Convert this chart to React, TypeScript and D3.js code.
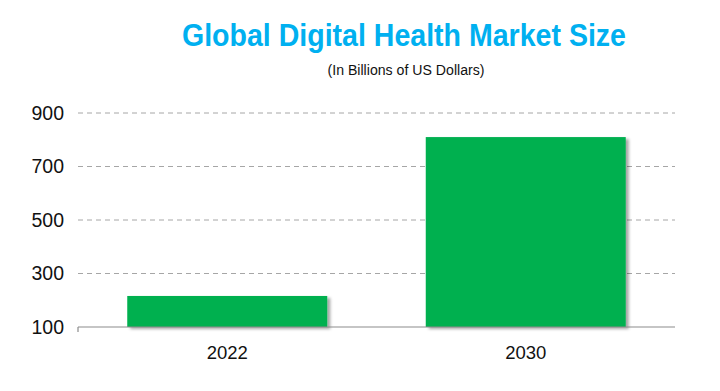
import React, { useRef, useEffect } from 'react';
import * as d3 from 'd3';

const categories = ['2022', '2030'];
const marketSize = [216, 810];
const yTicks = [100, 300, 500, 700, 900];

const App: React.FC = () => {
    const svgRef = useRef<SVGSVGElement>(null);

    useEffect(() => {
        if (!svgRef.current) return;
        const svg = d3.select(svgRef.current);
        svg.selectAll('*').remove();

        const width = 720;
        const height = 391;
        const margin = { top: 113, right: 45, bottom: 64, left: 78 };
        const sans = 'Arial, "Liberation Sans", sans-serif';

        const x = d3.scaleBand<string>()
            .domain(categories)
            .range([margin.left, width - margin.right])
            .paddingInner(0.33)
            .paddingOuter(0.165);

        const y = d3.scaleLinear()
            .domain([100, 900])
            .range([height - margin.bottom, margin.top]);

        // Drop shadow for bars
        const defs = svg.append('defs');
        const filter = defs.append('filter')
            .attr('id', 'barShadow')
            .attr('x', '-10%').attr('y', '-10%')
            .attr('width', '130%').attr('height', '130%');
        filter.append('feDropShadow')
            .attr('dx', 3).attr('dy', 2)
            .attr('stdDeviation', 1.5)
            .attr('flood-color', '#000')
            .attr('flood-opacity', 0.35);

        // Title (condensed to mimic Arial Narrow)
        svg.append('text')
            .attr('x', 404)
            .attr('y', 46)
            .attr('text-anchor', 'middle')
            .attr('font-family', sans)
            .attr('font-weight', 'bold')
            .attr('font-size', 30.5)
            .attr('textLength', 444)
            .attr('lengthAdjust', 'spacingAndGlyphs')
            .attr('fill', '#00b0f0')
            .text('Global Digital Health Market Size');

        svg.append('text')
            .attr('x', 406)
            .attr('y', 75)
            .attr('text-anchor', 'middle')
            .attr('font-family', sans)
            .attr('font-size', 14)
            .attr('textLength', 157)
            .attr('lengthAdjust', 'spacingAndGlyphs')
            .attr('fill', '#111')
            .text('(In Billions of US Dollars)');

        // Grid lines
        svg.append('g')
            .selectAll('line')
            .data(yTicks.filter(d => d !== 100))
            .enter()
            .append('line')
            .attr('x1', margin.left)
            .attr('x2', width - margin.right)
            .attr('y1', d => y(d))
            .attr('y2', d => y(d))
            .attr('stroke', '#a6a6a6')
            .attr('stroke-width', 1)
            .attr('stroke-dasharray', '5,4');

        // Y tick labels
        svg.append('g')
            .selectAll('text')
            .data(yTicks)
            .enter()
            .append('text')
            .attr('x', 64)
            .attr('y', d => y(d))
            .attr('dy', '0.35em')
            .attr('text-anchor', 'end')
            .attr('font-family', sans)
            .attr('font-size', 19.5)
            .attr('fill', '#111')
            .text(d => d);

        // Bars
        svg.append('g')
            .selectAll('rect')
            .data(categories)
            .enter()
            .append('rect')
            .attr('x', d => x(d)!)
            .attr('width', x.bandwidth())
            .attr('y', (d, i) => y(marketSize[i]))
            .attr('height', (d, i) => y(100) - y(marketSize[i]))
            .attr('fill', '#00b050')
            .attr('filter', 'url(#barShadow)');

        // Baseline axis
        svg.append('line')
            .attr('x1', margin.left)
            .attr('x2', width - margin.right)
            .attr('y1', y(100))
            .attr('y2', y(100))
            .attr('stroke', '#8c8c8c')
            .attr('stroke-width', 1.2);
        svg.append('line')
            .attr('x1', margin.left)
            .attr('x2', margin.left)
            .attr('y1', y(100))
            .attr('y2', y(100) + 5)
            .attr('stroke', '#8c8c8c')
            .attr('stroke-width', 1.2);

        // X labels
        svg.append('g')
            .selectAll('text')
            .data(categories)
            .enter()
            .append('text')
            .attr('x', d => x(d)! + x.bandwidth() / 2)
            .attr('y', 359)
            .attr('text-anchor', 'middle')
            .attr('font-family', sans)
            .attr('font-size', 18.5)
            .attr('fill', '#111')
            .text(d => d);
    }, []);

    return (
        <svg
            ref={svgRef}
            width={720}
            height={391}
            style={{ position: 'absolute', left: 0, top: 0, background: '#fff' }}
        />
    );
};

export default App;
